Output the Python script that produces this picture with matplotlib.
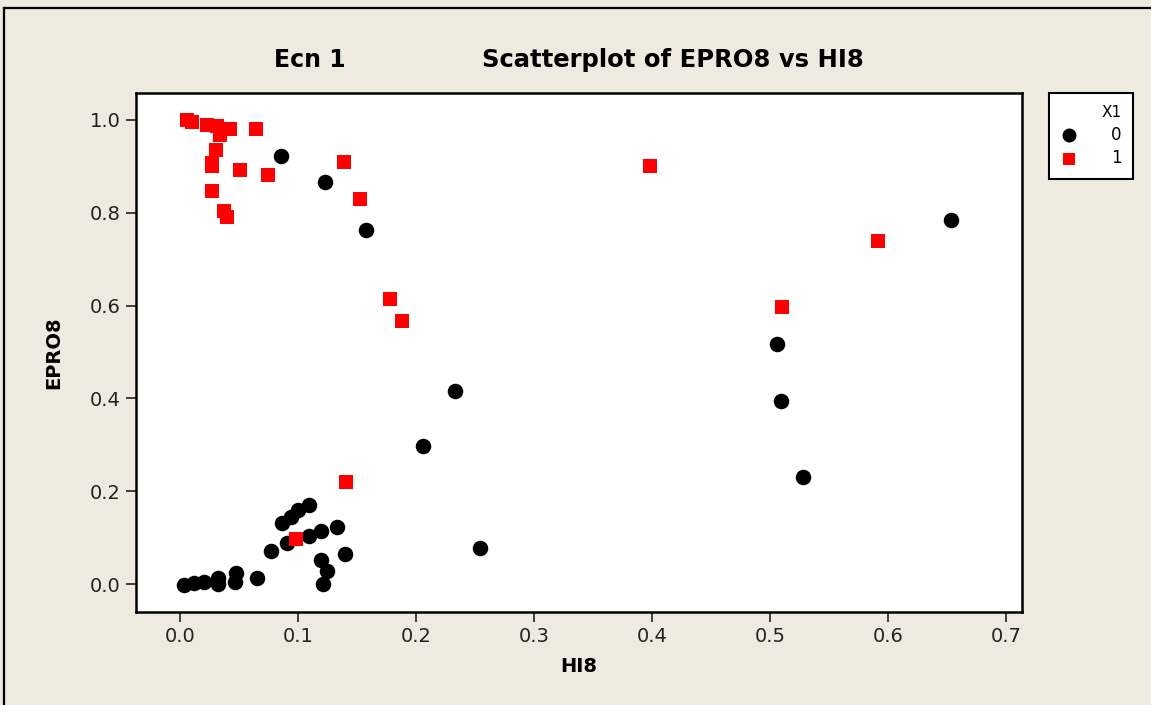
import matplotlib
matplotlib.use("Agg")
import matplotlib.pyplot as plt
from matplotlib.lines import Line2D

# ---- data ----
hi8_x1_0 = [0.0853, 0.1226, 0.158, 0.233, 0.2057, 0.254,
            0.6534, 0.506, 0.509, 0.528,
            0.1093, 0.1003, 0.0938, 0.0867, 0.1328, 0.1195, 0.1093, 0.0904,
            0.0768, 0.1398, 0.1192, 0.1243, 0.1209, 0.0650, 0.0475, 0.047,
            0.0325, 0.0325, 0.0203, 0.0118, 0.0030]
epro8_x1_0 = [0.923, 0.867, 0.763, 0.415, 0.297, 0.0776,
              0.7845, 0.518, 0.395, 0.230,
              0.170, 0.159, 0.1437, 0.131, 0.1236, 0.115, 0.1027, 0.088,
              0.0718, 0.064, 0.0517, 0.0287, 0.0, 0.0125, 0.023, 0.0045,
              0.013, 0.0, 0.005, 0.003, -0.001]

hi8_x1_1 = [0.0062, 0.010, 0.0226, 0.031, 0.042, 0.034, 0.064, 0.0305,
            0.027, 0.027, 0.0508, 0.0746, 0.027, 0.037, 0.040,
            0.139, 0.1525, 0.178, 0.188, 0.398, 0.5915, 0.510,
            0.1407, 0.0983]
epro8_x1_1 = [1.0, 0.996, 0.989, 0.986, 0.98, 0.968, 0.98, 0.935,
              0.908, 0.900, 0.893, 0.881, 0.846, 0.803, 0.791,
              0.909, 0.830, 0.6135, 0.566, 0.901, 0.740, 0.598,
              0.2198, 0.0977]

xticks = [0.0, 0.1, 0.2, 0.3, 0.4, 0.5, 0.6, 0.7]
yticks = [0.0, 0.2, 0.4, 0.6, 0.8, 1.0]

bg = "#eeeae0"
W, H = 1151, 705
fig = plt.figure(figsize=(W / 100, H / 100), dpi=100, facecolor=bg)

# outer frame (left and top edges visible)
fig.add_artist(Line2D([4 / W, 4 / W], [0, 1 - 8 / H], transform=fig.transFigure,
                      color="black", lw=1.6))
fig.add_artist(Line2D([4 / W, 1], [1 - 8 / H, 1 - 8 / H], transform=fig.transFigure,
                      color="black", lw=1.6))

ax = fig.add_axes([136 / W, 1 - 612 / H, (1022 - 136) / W, (612 - 93) / H])
ax.set_facecolor("white")

ax.scatter(hi8_x1_0, epro8_x1_0, marker="o", s=125, color="black",
           linewidths=0, label="0", zorder=3)
ax.scatter(hi8_x1_1, epro8_x1_1, marker="s", s=92, color="#ff0000",
           linewidths=0, label="1", zorder=3)

ax.set_xlim(-0.0373, 0.7136)
ax.set_ylim(-0.060, 1.058)
ax.set_xticks(xticks)
ax.set_xticklabels([f"{t:.1f}" for t in xticks])
ax.set_yticks(yticks)
ax.set_yticklabels([f"{t:.1f}" for t in yticks])

for sp in ax.spines.values():
    sp.set_linewidth(1.8)
    sp.set_color("black")
ax.tick_params(direction="out", length=7, width=1.3, color="#333333",
               labelsize=14, labelcolor="#222222", pad=4)

ax.set_xlabel("HI8", fontsize=14, fontweight="bold", labelpad=8)
ax.set_ylabel("EPRO8", fontsize=14, fontweight="bold", labelpad=19)

fig.text(310 / W, 1 - 60 / H, "Ecn 1", fontsize=17, fontweight="bold",
         ha="center", va="center")
fig.text(673 / W, 1 - 60 / H, "Scatterplot of EPRO8 vs HI8", fontsize=17.5,
         fontweight="bold", ha="center", va="center")

leg = fig.legend(loc="upper left", bbox_to_anchor=(1049 / W, 1 - 93 / H),
                 bbox_transform=fig.transFigure, title="X1", borderaxespad=0,
                 fontsize=12, title_fontsize=11, frameon=True, fancybox=False,
                 edgecolor="black", facecolor="white", framealpha=1,
                 handletextpad=2.0, handlelength=1.0, borderpad=0.7,
                 labelspacing=0.35, alignment="right", markerscale=0.9)
leg.get_frame().set_linewidth(1.5)

fig.savefig("out.png", dpi=100, facecolor=bg)
